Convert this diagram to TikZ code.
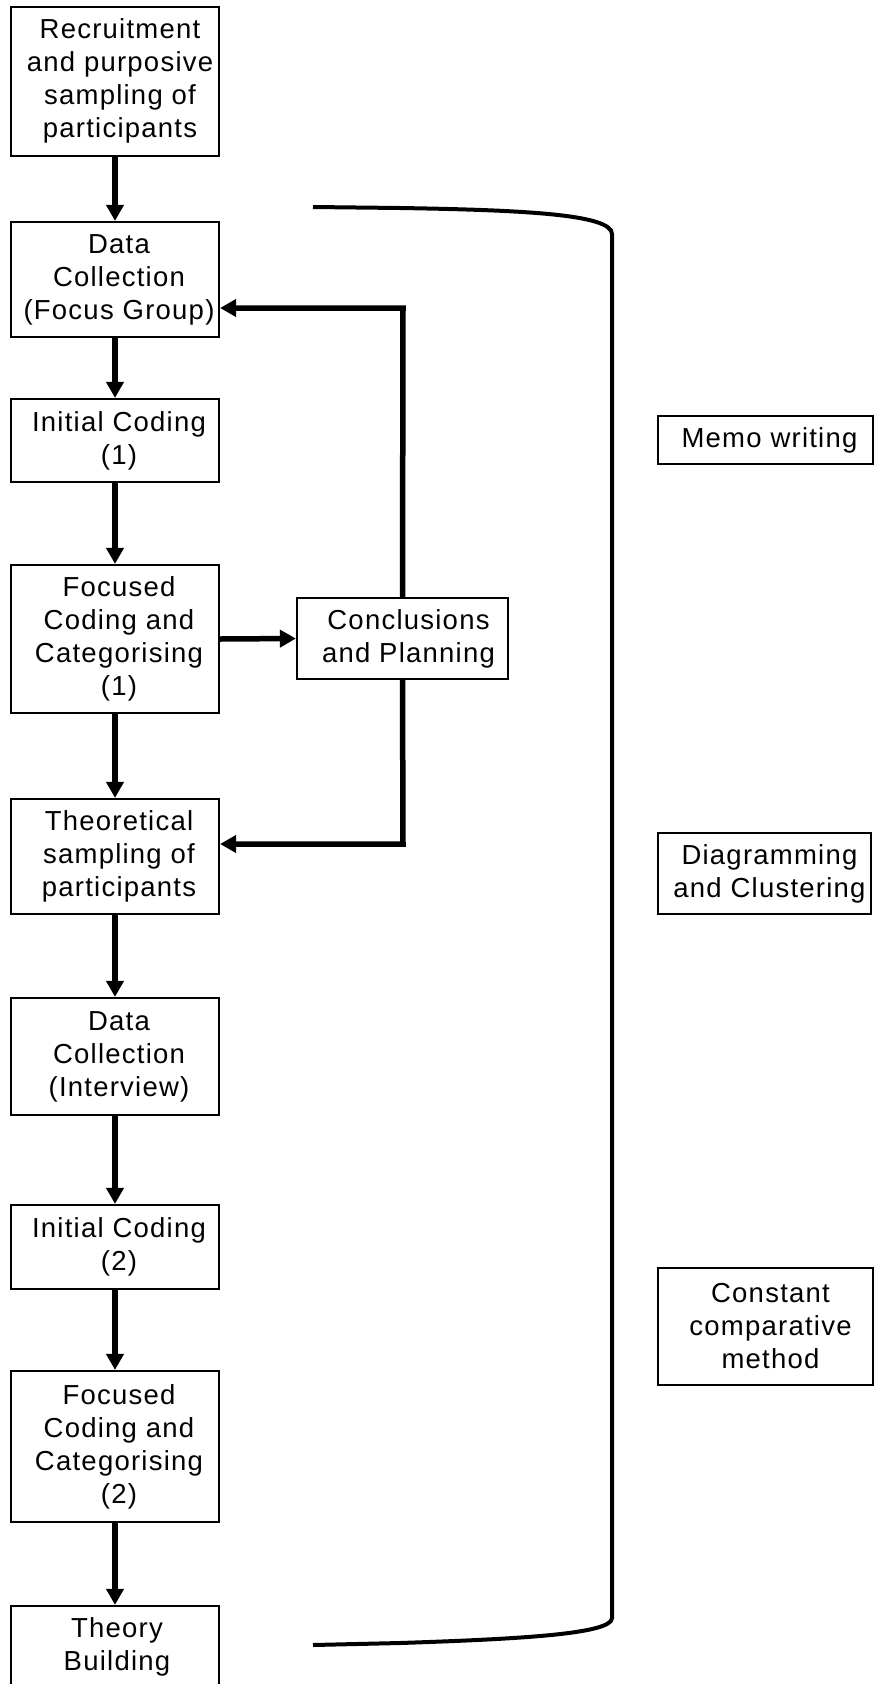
\documentclass[tikz,border=0pt]{standalone}
\usepackage{fontspec}
\setmainfont{Liberation Sans}[LetterSpace=4.5]
\usetikzlibrary{arrows.meta}

\tikzset{
  box/.style={draw=black, line width=2.2pt, fill=white, inner sep=0pt, minimum width=208pt},
  txt/.style={inner sep=0pt, align=center, font=\fontsize{27.5}{33}\selectfont},
  flow/.style={line width=5.5pt, line join=miter, -{Triangle[length=16pt,width=17pt]}},
  bracket/.style={line width=4pt}
}

\begin{document}
\begin{tikzpicture}[x=1pt, y=-1pt]
\useasboundingbox (0,0) rectangle (877,1684);

% main column of stages
\node[box, minimum height=149pt] (rec)  at (115,81.5)   {};
\node[box, minimum height=115pt] (dcfg) at (115,279.5)  {};
\node[box, minimum height=83pt]  (ic1)  at (115,440.5)  {};
\node[box, minimum height=148pt] (fc1)  at (115,639)    {};
\node[box, minimum height=115pt] (theo) at (115,856.5)  {};
\node[box, minimum height=117pt] (dci)  at (115,1056.5) {};
\node[box, minimum height=84pt]  (ic2)  at (115,1247)   {};
\node[box, minimum height=151pt] (fc2)  at (115,1446.5) {};
\node[box, minimum height=82pt]  (tb)   at (115,1647)   {};

\node[txt] (recT)  at ([xshift=5pt,yshift=1pt]rec.center)  {Recruitment\\and purposive\\sampling of\\participants};
\node[txt] (dcfgT) at ([xshift=4pt]dcfg.center) {Data\\Collection\\(Focus Group)};
\node[txt] (ic1T)  at ([xshift=4pt]ic1.center)  {Initial Coding\\(1)};
\node[txt] (fc1T)  at ([xshift=4pt]fc1.center)  {Focused\\Coding and\\Categorising\\(1)};
\node[txt] (theoT) at ([xshift=4pt]theo.center) {Theoretical\\sampling of\\participants};
\node[txt] (dciT)  at ([xshift=4pt]dci.center)  {Data\\Collection\\(Interview)};
\node[txt] (ic2T)  at ([xshift=4pt]ic2.center)  {Initial Coding\\(2)};
\node[txt] (fc2T)  at ([xshift=4pt]fc2.center)  {Focused\\Coding and\\Categorising\\(2)};
\node[txt] (tbT)   at ([xshift=2pt]tb.center)   {Theory\\Building};

% review step
\node[box, minimum width=211pt, minimum height=81pt] (conc) at (402.5,638.5) {};
\node[txt] (concT) at ([xshift=6pt]conc.center) {Conclusions\\and Planning};

% supporting activities
\node[box, minimum width=215pt, minimum height=48pt]  (memo)  at (765.5,440)    {};
\node[box, minimum width=213pt, minimum height=81pt]  (diag)  at (764.5,873.5)  {};
\node[box, minimum width=215pt, minimum height=117pt] (const) at (765.5,1326.5) {};
\node[txt] (memoT)  at ([xshift=4pt]memo.center)  {Memo writing};
\node[txt] (diagT)  at ([xshift=5pt]diag.center)  {Diagramming\\and Clustering};
\node[txt] (constT) at ([xshift=5pt]const.center) {Constant\\comparative\\method};

% forward flow
\draw[flow] (rec)  -- (dcfg);
\draw[flow] (dcfg) -- (ic1);
\draw[flow] (ic1)  -- (fc1);
\draw[flow] (fc1)  -- (theo);
\draw[flow] (theo) -- (dci);
\draw[flow] (dci)  -- (ic2);
\draw[flow] (ic2)  -- (fc2);
\draw[flow] (fc2)  -- (tb);
\draw[flow] (fc1.east) -- (conc.west);

% feedback loops from the review step
\coordinate (fbUp)   at (403,308);
\coordinate (fbDown) at (403,844);
\draw[flow] (conc.north) -- (fbUp) -- (fbUp -| dcfg.east);
\draw[flow] (conc.south) -- (fbDown) -- (fbDown -| theo.east);

% bracket grouping the analysis cycle
\coordinate (brTop) at (313,207);
\coordinate (brBot) at (313,1645);
\draw[bracket] (brTop) -- (400,208) .. controls (520,210) and (612,214) .. (612,234)
  -- (612,1618) .. controls (612,1634) and (520,1639) .. (400,1643) -- (brBot);
\end{tikzpicture}
\end{document}
